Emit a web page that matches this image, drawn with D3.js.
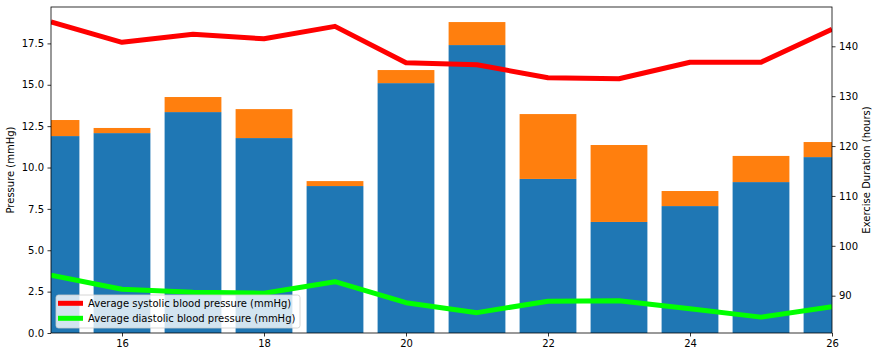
<!DOCTYPE html>
<html>
<head>
<meta charset="utf-8">
<script src="https://cdn.jsdelivr.net/npm/d3@7"></script>
<style>
  html, body { margin: 0; padding: 0; background: #fff; }
  svg { display: block; font-family: "DejaVu Sans", sans-serif; }
</style>
</head>
<body>
<svg id="chart" width="878" height="357"></svg>
<script>
// ---- data ----
const days = [15, 16, 17, 18, 19, 20, 21, 22, 23, 24, 25, 26];
const pressureBase = [11.90, 12.08, 13.35, 11.78, 8.88, 15.10, 17.40, 9.31, 6.71, 7.67, 9.12, 10.63];
const pressureExtra = [0.97, 0.31, 0.91, 1.75, 0.30, 0.79, 1.39, 3.92, 4.65, 0.91, 1.58, 0.91];
const systolic = [144.9, 140.8, 142.4, 141.5, 144.0, 136.7, 136.3, 133.7, 133.5, 136.8, 136.8, 143.4];
const diastolic = [94.1, 91.3, 90.7, 90.5, 92.8, 88.6, 86.6, 88.9, 89.0, 87.4, 85.7, 87.8];
const xTicks = [16, 18, 20, 22, 24, 26];
const leftTicks = [0, 2.5, 5, 7.5, 10, 12.5, 15, 17.5];
const rightTicks = [90, 100, 110, 120, 130, 140];
const seriesNames = ["Average systolic blood pressure (mmHg)", "Average diastolic blood pressure (mmHg)"];

// ---- layout ----
const svg = d3.select("#chart");
const L = 51, R = 832, T = 7, B = 333;

const x = d3.scaleLinear().domain([15, 26]).range([L, R]);
const yL = d3.scaleLinear().domain([0, 19.7]).range([B, T]);
const yR = d3.scaleLinear().domain([82.52, 147.88]).range([B, T]);

svg.append("defs").append("clipPath").attr("id", "clip")
  .append("rect").attr("x", L).attr("y", T).attr("width", R - L).attr("height", B - T);

const plot = svg.append("g").attr("clip-path", "url(#clip)");
const barW = x(15.8) - x(15);

plot.selectAll("rect.base").data(days).join("rect")
  .attr("class", "base")
  .attr("x", (d) => x(d - 0.4))
  .attr("width", barW)
  .attr("y", (d, i) => yL(pressureBase[i]))
  .attr("height", (d, i) => yL(0) - yL(pressureBase[i]))
  .attr("fill", "#1f77b4");

plot.selectAll("rect.extra").data(days).join("rect")
  .attr("class", "extra")
  .attr("x", (d) => x(d - 0.4))
  .attr("width", barW)
  .attr("y", (d, i) => yL(pressureBase[i] + pressureExtra[i]))
  .attr("height", (d, i) => yL(pressureBase[i]) - yL(pressureBase[i] + pressureExtra[i]))
  .attr("fill", "#ff7f0e");

const line = (arr) => d3.line().x((d, i) => x(days[i])).y((d) => yR(d))(arr);
plot.append("path").attr("d", line(systolic)).attr("fill", "none")
  .attr("stroke", "#ff0000").attr("stroke-width", 5).attr("stroke-linejoin", "round");
plot.append("path").attr("d", line(diastolic)).attr("fill", "none")
  .attr("stroke", "#00ff00").attr("stroke-width", 5).attr("stroke-linejoin", "round");

// ---- axes ----
const fmtL = d3.format(".1f");
const axB = svg.append("g").attr("transform", `translate(0,${B})`)
  .call(d3.axisBottom(x).tickValues(xTicks).tickFormat(d3.format("d")).tickSize(3.5).tickPadding(3.5));
const axL = svg.append("g").attr("transform", `translate(${L},0)`)
  .call(d3.axisLeft(yL).tickValues(leftTicks).tickFormat(fmtL).tickSize(3.5).tickPadding(3.5));
const axR = svg.append("g").attr("transform", `translate(${R},0)`)
  .call(d3.axisRight(yR).tickValues(rightTicks).tickFormat(d3.format("d")).tickSize(3.5).tickPadding(3.5));
[axB, axL, axR].forEach((g) => {
  g.select(".domain").remove();
  g.selectAll("line").attr("stroke", "#000").attr("stroke-width", 0.8);
  g.selectAll("text").attr("font-size", 10).attr("fill", "#000").attr("font-family", "DejaVu Sans, sans-serif");
});

svg.append("rect").attr("x", L).attr("y", T).attr("width", R - L).attr("height", B - T)
  .attr("fill", "none").attr("stroke", "#000").attr("stroke-width", 0.8);

// axis labels
svg.append("text").attr("transform", `translate(14,${(T + B) / 2}) rotate(-90)`)
  .attr("text-anchor", "middle").attr("font-size", 10).text("Pressure (mmHg)");
svg.append("text").attr("transform", `translate(870,${(T + B) / 2}) rotate(-90)`)
  .attr("text-anchor", "middle").attr("font-size", 10).text("Exercise Duration (hours)");

// ---- legend ----
const lg = svg.append("g");
lg.append("rect").attr("x", 56).attr("y", 295).attr("width", 244).attr("height", 33)
  .attr("rx", 2.5).attr("fill", "#fff").attr("fill-opacity", 0.8)
  .attr("stroke", "#cccccc").attr("stroke-width", 0.8);
const legendColors = ["#ff0000", "#00ff00"];
seriesNames.forEach((name, i) => {
  const yy = 303.3 + i * 15;
  lg.append("line").attr("x1", 58).attr("x2", 83).attr("y1", yy).attr("y2", yy)
    .attr("stroke", legendColors[i]).attr("stroke-width", 5);
  lg.append("text").attr("x", 88).attr("y", yy + 3.6).attr("font-size", 10).text(name);
});
</script>
</body>
</html>
